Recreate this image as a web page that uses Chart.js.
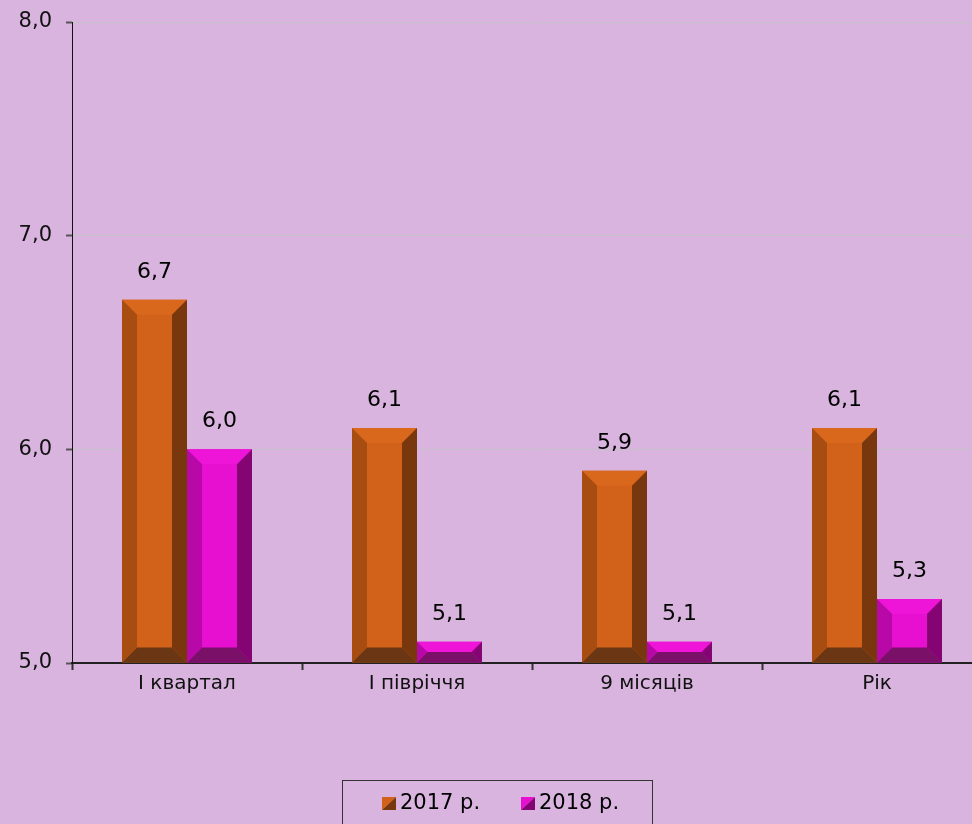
<!DOCTYPE html>
<html lang="uk">
<head>
<meta charset="utf-8">
<title>2017 / 2018</title>
<script src="https://cdn.jsdelivr.net/npm/chart.js@4/dist/chart.umd.min.js"></script>
<style>
  html, body { margin: 0; padding: 0; background: #d8b4de; overflow: hidden; }
  #wrap { width: 994px; height: 824px; }
</style>
</head>
<body>
<div id="wrap"><canvas id="grafico" width="994" height="824"></canvas></div>
<script>
// === Дані ===
const periodos = ["І квартал", "І півріччя", "9 місяців", "Рік"];
const valores2017 = [6.7, 6.1, 5.9, 6.1];
const valores2018 = [6.0, 5.1, 5.1, 5.3];
const series = ["2017 р.", "2018 р."];

const FONTE = "'DejaVu Sans', Verdana, sans-serif";

// cores: face, topo, esquerda, direita, base
const corLaranja = { face: "#d2621a", topo: "#d9671c", esq: "#a84d12", dir: "#78370d", base: "#6b3614" };
const corMagenta = { face: "#e70fd0", topo: "#ee14d8", esq: "#b808a7", dir: "#850473", base: "#7a1068" };
const cores = [corLaranja, corMagenta];

const fmt = v => v.toFixed(1).replace(".", ",");

// === Bisel das barras + rótulos ===
const pluginBisel = {
    id: "bisel",
    afterDatasetsDraw(chart) {
        const ctx = chart.ctx;
        chart.data.datasets.forEach((ds, i) => {
            const meta = chart.getDatasetMeta(i);
            const c = cores[i];
            meta.data.forEach((bar, j) => {
                const { x, y, base, width } = bar.getProps(["x", "y", "base", "width"], true);
                const l = x - width / 2, r = x + width / 2, t = y, B = base;
                const b = Math.min(15, (B - t) / 2, width / 2);
                const poligono = (pts, cor) => {
                    ctx.beginPath();
                    ctx.moveTo(pts[0][0], pts[0][1]);
                    pts.slice(1).forEach(p => ctx.lineTo(p[0], p[1]));
                    ctx.closePath();
                    ctx.fillStyle = cor;
                    ctx.fill();
                };
                ctx.save();
                poligono([[l, t], [r, t], [r - b, t + b], [l + b, t + b]], c.topo);
                poligono([[l, B], [r, B], [r - b, B - b], [l + b, B - b]], c.base);
                poligono([[l, t], [l + b, t + b], [l + b, B - b], [l, B]], c.esq);
                poligono([[r, t], [r - b, t + b], [r - b, B - b], [r, B]], c.dir);

                ctx.fillStyle = "#000";
                ctx.font = "22px " + FONTE;
                ctx.textAlign = "center";
                ctx.textBaseline = "alphabetic";
                ctx.fillText(fmt(ds.data[j]), x, t - 22);
                ctx.restore();
            });
        });
    }
};

// === Legenda em caixa ===
const pluginLegenda = {
    id: "legendaCaixa",
    afterDraw(chart) {
        const ctx = chart.ctx;
        const cx = chart.width / 2;
        const caixaX = Math.round(cx - 155) + 0.5;
        ctx.save();
        ctx.strokeStyle = "#333";
        ctx.lineWidth = 1;
        ctx.strokeRect(caixaX, 780.5, 310, 80);

        ctx.font = "21px " + FONTE;
        ctx.textBaseline = "middle";
        ctx.textAlign = "left";
        const posicoes = [caixaX + 39.5, caixaX + 178.5];
        chart.data.datasets.forEach((ds, i) => {
            const c = cores[i];
            const sx = posicoes[i], sy = 797, s = 14;
            ctx.fillStyle = c.face;
            ctx.beginPath();
            ctx.moveTo(sx, sy); ctx.lineTo(sx + s, sy); ctx.lineTo(sx, sy + s - 1); ctx.closePath();
            ctx.fill();
            ctx.fillStyle = c.dir;
            ctx.beginPath();
            ctx.moveTo(sx + s, sy); ctx.lineTo(sx + s, sy + s - 1); ctx.lineTo(sx, sy + s - 1); ctx.closePath();
            ctx.fill();
            ctx.fillStyle = "#000";
            ctx.fillText(ds.label, sx + s + 4, 804);
        });
        ctx.restore();
    }
};

new Chart(document.getElementById("grafico"), {
    type: "bar",
    data: {
        labels: periodos,
        datasets: [
            { label: series[0], data: valores2017, base: 5, backgroundColor: corLaranja.face, borderWidth: 0 },
            { label: series[1], data: valores2018, base: 5, backgroundColor: corMagenta.face, borderWidth: 0 }
        ]
    },
    options: {
        responsive: false,
        animation: false,
        layout: { padding: { top: 22, right: 2, left: 0, bottom: 0 } },
        datasets: { bar: { categoryPercentage: 130 / 230, barPercentage: 1.0 } },
        plugins: {
            legend: { display: false },
            tooltip: { enabled: false }
        },
        scales: {
            x: {
                grid: {
                    offset: true,
                    drawOnChartArea: false,
                    tickLength: 7,
                    tickColor: "#333",
                    tickWidth: 2
                },
                border: { color: "#222", width: 2 },
                ticks: { color: "#111", font: { family: FONTE, size: 20 }, padding: 2 },
                afterFit: s => { s.height = 161; s.paddingLeft = 0; s.paddingRight = 0; }
            },
            y: {
                min: 5,
                max: 8,
                grid: {
                    color: "#c6c0c8",
                    lineWidth: 1,
                    tickLength: 6,
                    tickColor: "#555",
                    tickWidth: 2
                },
                border: { color: "#111", width: 1 },
                ticks: {
                    stepSize: 1,
                    color: "#111",
                    font: { family: FONTE, size: 21 },
                    padding: 14,
                    callback: v => fmt(v)
                },
                afterFit: s => { s.width = 72; s.paddingTop = 0; s.paddingBottom = 0; }
            }
        }
    },
    plugins: [pluginBisel, pluginLegenda]
});
</script>
</body>
</html>
